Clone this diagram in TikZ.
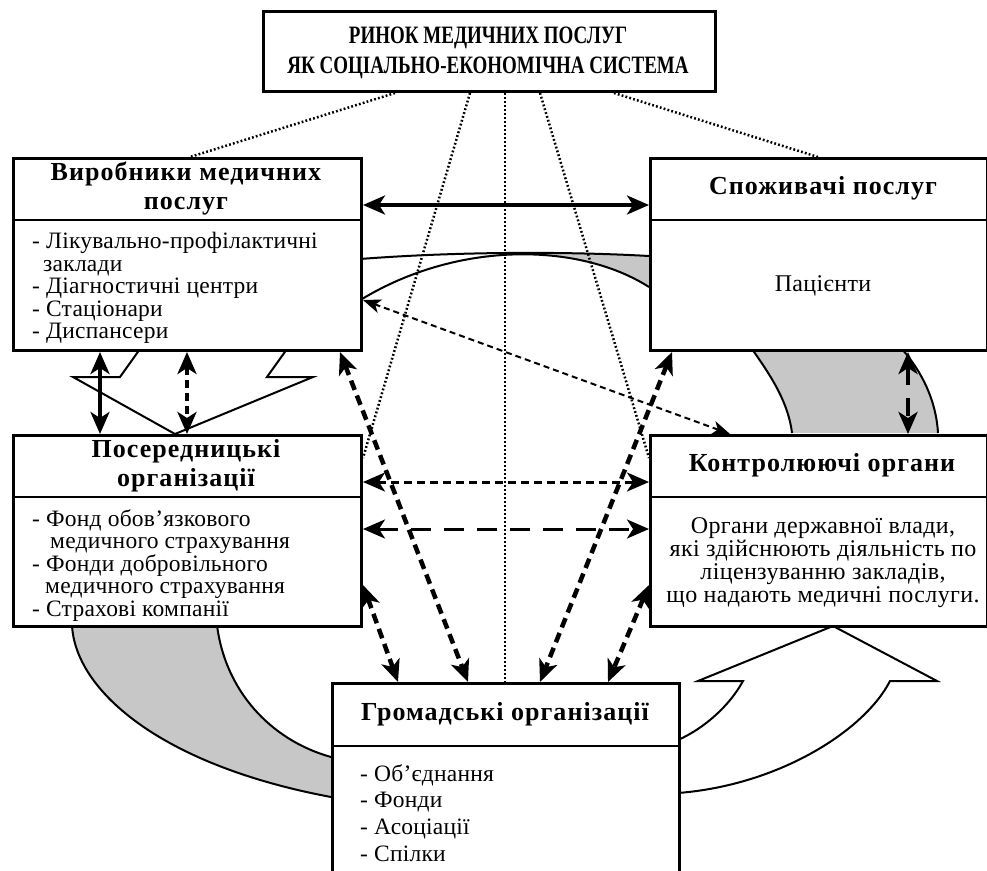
\documentclass[tikz,border=0pt]{standalone}
\usepackage{fontspec}
\setmainfont{Liberation Serif}
\usetikzlibrary{arrows.meta}
\begin{document}
\begin{tikzpicture}[x=1pt,y=-1pt,
  >={Stealth[length=22pt,width=19pt,inset=6pt]},
  box/.style={draw, line width=3pt, fill=white, inner sep=0pt, anchor=north west},
  sep/.style={line width=2.5pt},
  titlefont/.style={font=\fontsize{25}{30}\selectfont\bfseries\addfontfeatures{FakeStretch=0.76}, align=center, inner sep=0pt},
  hdr/.style={font=\fontsize{26}{29}\selectfont\bfseries\addfontfeatures{LetterSpace=4}, align=center, inner sep=0pt},
  txt/.style={font=\fontsize{23.5}{22.6}\selectfont\addfontfeatures{LetterSpace=1}, align=left, inner sep=0pt, anchor=north west},
  ctxt/.style={font=\fontsize{24}{23}\selectfont\addfontfeatures{LetterSpace=1.5}, align=center, inner sep=0pt},
  band/.style={line width=2pt},
  bandfill/.style={fill=black!22},
  link/.style={line width=2.5pt, dash pattern=on 1.8pt off 2.2pt},
  solidarrow/.style={<->, line width=3.5pt},
  thindash/.style={<->, line width=2pt, dash pattern=on 6pt off 4pt, >={Stealth[length=18pt,width=14pt,inset=5pt]}},
  shortdash/.style={<->, line width=3pt, dash pattern=on 8pt off 5pt},
  longdash/.style={<->, line width=3pt, dash pattern=on 20pt off 13pt},
  heavydash/.style={<->, line width=4.5pt, dash pattern=on 10pt off 6pt},
  tallydash/.style={<->, line width=4pt, dash pattern=on 18pt off 13pt}
]
\useasboundingbox (0,0) rectangle (987,870);
\clip (0,0) rectangle (987,870);

% ---- ring pieces running behind the boxes ----
% upper band between producers and consumers
\begin{scope}
  \clip (525,240) rectangle (660,310);
  \fill[bandfill] (360,259) .. controls (450,252) and (560,251) .. (649,256)
    -- (649,287) .. controls (580,243) and (460,240) .. (362,299) -- cycle;
\end{scope}
\draw[band] (360,259) .. controls (450,252) and (560,251) .. (649,256);
\draw[band] (362,299) .. controls (460,240) and (580,243) .. (649,287);

% right band between consumers and control bodies
\fill[bandfill] (752,349) .. controls (768,372) and (788,400) .. (792,433)
  -- (938,433) .. controls (936,400) and (922,372) .. (902,349) -- cycle;
\draw[band] (752,349) .. controls (768,372) and (788,400) .. (792,433);
\draw[band] (902,349) .. controls (922,372) and (936,400) .. (938,433);

% lower-left band
\fill[bandfill] (72,625) .. controls (75,690) and (160,765) .. (331,797)
  -- (331,757) .. controls (270,740) and (225,690) .. (217,625) -- cycle;
\draw[band] (72,625) .. controls (75,690) and (160,765) .. (331,797);
\draw[band] (217,625) .. controls (225,690) and (270,740) .. (331,757);

% hollow curved arrow up to the control bodies
\draw[band, fill=white] (678,740) .. controls (705,728) and (730,705) .. (743,681)
  -- (698,681) -- (833,626) -- (937,681) -- (890,681)
  .. controls (865,730) and (780,785) .. (678,793) -- cycle;

% hollow arrow head down to the intermediaries
\draw[band, fill=white] (140,349) -- (120,377) -- (73,377) -- (175,434)
  -- (313,377) -- (267,377) -- (287,349) -- cycle;

% ---- boxes ----
\node[box, minimum width=452pt, minimum height=80pt] (title) at (262,10) {};
\node[titlefont] (titletext) at (488,53) {РИНОК МЕДИЧНИХ ПОСЛУГ\\ЯК СОЦІАЛЬНО-ЕКОНОМІЧНА СИСТЕМА};

\node[box, minimum width=348pt, minimum height=192pt] (prod) at (12,157) {};
\draw[sep] (prod.west |- 0,220) -- (prod.east |- 0,220);
\node[hdr] (prodhead) at (186,188.5) {Виробники медичних\\послуг};
\node[txt] (prodlist) at (32,232) {- Лікувально-профілактичні\\\hspace*{11pt}заклади\\- Діагностичні центри\\- Стаціонари\\- Диспансери};

\node[box, minimum width=337pt, minimum height=192pt] (cons) at (649,157) {};
\draw[sep] (cons.west |- 0,220) -- (cons.east |- 0,220);
\node[hdr] (conshead) at (823,188) {Споживачі послуг};
\node[ctxt] (conslist) at (823,286) {Пацієнти};

\node[box, minimum width=348pt, minimum height=191pt] (inter) at (12,434) {};
\draw[sep] (inter.west |- 0,497) -- (inter.east |- 0,497);
\node[hdr] (interhead) at (186,465.5) {Посередницькі\\організації};
\node[txt] (interlist) at (32,509) {- Фонд обов’язкового\\\hspace*{18pt}медичного страхування\\- Фонди добровільного\\\hspace*{13pt}медичного страхування\\- Страхові компанії};

\node[box, minimum width=337pt, minimum height=191pt] (ctrl) at (649,434) {};
\draw[sep] (ctrl.west |- 0,497) -- (ctrl.east |- 0,497);
\node[hdr] (ctrlhead) at (822,465) {Контролюючі органи};
\node[ctxt] (ctrllist) at (823,563) {Органи державної влади,\\які здійснюють діяльність по\\ліцензуванню закладів,\\що надають медичні послуги.};

\node[box, minimum width=347pt, minimum height=230pt] (pub) at (331,682) {};
\draw[sep] (pub.west |- 0,746) -- (pub.east |- 0,746);
\node[hdr] (pubhead) at (505,714) {Громадські організації};
\node[txt, font=\fontsize{23.5}{26.7}\selectfont\addfontfeatures{LetterSpace=1}] (publist) at (360,764) {- Об’єднання\\- Фонди\\- Асоціації\\- Спілки};

% ---- dotted links from the system box ----
\draw[link] (395,0 |- title.south) -- (190,0 |- prod.north);
\draw[link] (614,0 |- title.south) -- (818,0 |- cons.north);
\draw[link] (470,0 |- title.south) -- (inter.east |- 0,458);
\draw[link] (540,0 |- title.south) -- (ctrl.west |- 0,458);
\draw[link] (505,0 |- title.south) -- (505,0 |- pub.north);

% ---- connections between participants ----
\draw[solidarrow] (prod.east |- 0,205) -- (cons.west |- 0,205);
\draw[thindash] (prod.east |- 0,300) -- (730,0 |- ctrl.north);
\draw[shortdash] (inter.east |- 0,482) -- (ctrl.west |- 0,482);
\draw[longdash] (inter.east |- 0,529) -- (ctrl.west |- 0,529);
\draw[solidarrow] (100,0 |- prod.south) -- (100,0 |- inter.north);
\draw[shortdash, line width=4pt] (187,0 |- prod.south) -- (187,0 |- inter.north);
\draw[tallydash] (908,0 |- cons.south) -- (908,0 |- ctrl.north);
\draw[heavydash] (340,0 |- prod.south) -- (468,0 |- pub.north);
\draw[heavydash] (672,0 |- cons.south) -- (540,0 |- pub.north);
\draw[heavydash] (inter.east |- 0,585) -- (398,0 |- pub.north);
\draw[heavydash] (ctrl.west |- 0,585) -- (608,0 |- pub.north);
\end{tikzpicture}
\end{document}
